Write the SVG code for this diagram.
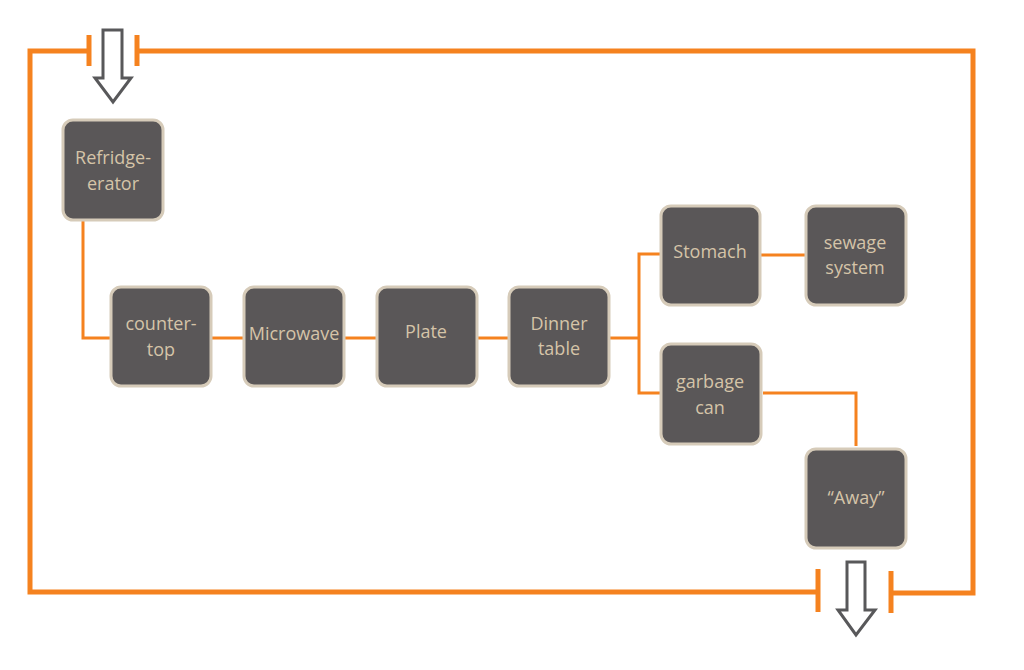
<svg xmlns="http://www.w3.org/2000/svg" width="1024" height="670" viewBox="0 0 1024 670">
<style>
.node rect{fill:#5a5758;stroke:#d6cbb9;stroke-width:3}
.node text{font-family:"Open Sans","Noto Sans",sans-serif;font-size:18px;fill:#d5c4a8;text-anchor:middle}
.conn{fill:none;stroke:#f5821f;stroke-width:3}
.frame{fill:none;stroke:#f5821f;stroke-width:5}
.arrow{fill:#fff;stroke:#58585a;stroke-width:3;stroke-linejoin:miter}
</style>
<rect width="1024" height="670" fill="#fff"/>
<g id="frame">
<polyline class="frame" points="89,51 30,51 30,592 818,592"/>
<polyline class="frame" points="137,51 973,51 973,593 891,593"/>
<line class="frame" x1="89" y1="35" x2="89" y2="66"/>
<line class="frame" x1="137" y1="35" x2="137" y2="66"/>
<line class="frame" x1="818" y1="569" x2="818" y2="612"/>
<line class="frame" x1="891" y1="571" x2="891" y2="613"/>
</g>
<g id="connectors">
<polyline class="conn" points="83,221 83,338 110,338"/>
<line class="conn" x1="212" y1="338" x2="243" y2="338"/>
<line class="conn" x1="345" y1="338" x2="376" y2="338"/>
<line class="conn" x1="477" y1="338" x2="508" y2="338"/>
<line class="conn" x1="609" y1="338" x2="639" y2="338"/>
<polyline class="conn" points="660,254 639,254 639,393 660,393"/>
<line class="conn" x1="761" y1="255" x2="805" y2="255"/>
<polyline class="conn" points="763,393 856,393 856,446"/>
</g>
<g id="arrow-in">
<polygon class="arrow" points="103,30 122,30 122,78 131,78 113,102 95,78 103,78"/>
</g>
<g id="arrow-out">
<polygon class="arrow" points="847,562 865,562 865,610 875,610 856,635 838,610 847,610"/>
</g>
<g id="refrigerator" class="node">
<rect x="63" y="120" width="100" height="100" rx="10"/>
<text x="113" y="164">Refridge-</text>
<text x="113" y="190">erator</text>
</g>
<g id="countertop" class="node">
<rect x="111" y="287" width="100" height="99" rx="10"/>
<text x="161" y="330">counter-</text>
<text x="161" y="356">top</text>
</g>
<g id="microwave" class="node">
<rect x="244" y="287" width="100" height="99" rx="10"/>
<text x="294" y="340">Microwave</text>
</g>
<g id="plate" class="node">
<rect x="377" y="287" width="100" height="99" rx="10"/>
<text x="426" y="338">Plate</text>
</g>
<g id="dinnertable" class="node">
<rect x="509" y="287" width="100" height="99" rx="10"/>
<text x="559" y="330">Dinner</text>
<text x="559" y="355">table</text>
</g>
<g id="stomach" class="node">
<rect x="661" y="206" width="99" height="99" rx="10"/>
<text x="710" y="258">Stomach</text>
</g>
<g id="sewage" class="node">
<rect x="806" y="206" width="100" height="99" rx="10"/>
<text x="855" y="249">sewage</text>
<text x="855" y="274">system</text>
</g>
<g id="garbage" class="node">
<rect x="661" y="344" width="100" height="100" rx="10"/>
<text x="710" y="388">garbage</text>
<text x="710" y="414">can</text>
</g>
<g id="away" class="node">
<rect x="806" y="449" width="100" height="99" rx="10"/>
<text x="856" y="504">“Away”</text>
</g>
</svg>
